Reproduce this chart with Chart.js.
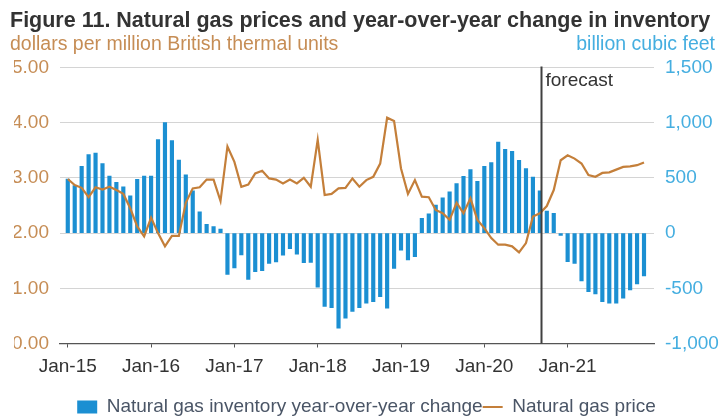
<!DOCTYPE html>
<html>
<head>
<meta charset="utf-8">
<title>Natural gas prices and inventory change</title>
<script src="https://cdn.jsdelivr.net/npm/chart.js@4.4.1/dist/chart.umd.min.js"></script>
<style>
    body { margin: 0; background: #fff; }
    #wrap { width: 719px; height: 420px; }
</style>
</head>
<body>
<div id="wrap"><canvas id="gasChart" width="719" height="420"></canvas></div>
<script>
// Chart data (monthly, Jan-15 to Dec-21)
const tickLabels = ['Jan-15', 'Jan-16', 'Jan-17', 'Jan-18', 'Jan-19', 'Jan-20', 'Jan-21'];

// billion cubic feet
const inventoryChange = [
    490, 430, 605, 711, 725, 629, 517, 460, 418, 337, 488, 517,
    517, 846, 1000, 837, 662, 527, 382, 192, 80, 60, 36, -374,
    -315, -198, -420, -349, -340, -274, -262, -199, -141, -190, -268, -265,
    -490, -665, -675, -861, -770, -710, -675, -635, -620, -575, -680, -319,
    -154, -244, -214, 133, 175, 253, 319, 373, 449, 515, 575, 470,
    605, 638, 824, 759, 741, 659, 584, 508, 382, 199, 178, -20,
    -259, -274, -433, -530, -551, -620, -635, -635, -590, -515, -460, -388
];

// dollars per million Btu
const gasPrice = [
    2.98, 2.87, 2.82, 2.65, 2.83, 2.79, 2.84, 2.78, 2.71, 2.45, 2.12, 1.94,
    2.28, 2.00, 1.76, 1.95, 1.95, 2.55, 2.81, 2.83, 2.97, 2.97, 2.58, 3.57,
    3.29, 2.84, 2.88, 3.08, 3.13, 2.99, 2.97, 2.90, 2.97, 2.90, 3.00, 2.84,
    3.69, 2.69, 2.71, 2.81, 2.82, 2.99, 2.84, 2.96, 3.02, 3.26, 4.09, 4.03,
    3.17, 2.71, 2.96, 2.66, 2.65, 2.42, 2.36, 2.24, 2.55, 2.36, 2.63, 2.24,
    2.09, 1.91, 1.79, 1.79, 1.76, 1.65, 1.82, 2.30, 2.36, 2.49, 2.78, 3.32,
    3.41, 3.35, 3.26, 3.05, 3.02, 3.09, 3.10, 3.15, 3.20, 3.21, 3.23, 3.28
];

// month index where the forecast starts
const forecastStart = 68.1;

const FONT = "'Liberation Sans', Arial, Helvetica, sans-serif";
const PRICE_COLOR = '#c47f3a';
const PRICE_TEXT = '#c68d55';
const INV_COLOR = '#1b8fd2';
const INV_TEXT = '#45aee0';

Chart.defaults.font.family = FONT;

// Plugin for title, unit labels and forecast marker
const annotations = {
    id: 'annotations',
    afterDatasetsDraw(chart) {
        const { ctx, chartArea, scales } = chart;
        const x = Math.round(scales.x.getPixelForValue(forecastStart)) + 0.5;

        ctx.save();
        ctx.strokeStyle = '#404040';
        ctx.lineWidth = 2;
        ctx.beginPath();
        ctx.moveTo(x, chartArea.top - 1);
        ctx.lineTo(x, chartArea.bottom);
        ctx.stroke();

        ctx.fillStyle = '#333';
        ctx.font = `19px ${FONT}`;
        ctx.textAlign = 'left';
        ctx.textBaseline = 'alphabetic';
        ctx.fillText('forecast', x + 4, 86);
        ctx.restore();
    },
    afterDraw(chart) {
        const { ctx } = chart;
        ctx.save();
        ctx.textBaseline = 'alphabetic';

        ctx.fillStyle = '#333';
        ctx.font = `bold 21.5px ${FONT}`;
        ctx.textAlign = 'left';
        ctx.fillText('Figure 11. Natural gas prices and year-over-year change in inventory', 10, 27);

        ctx.font = `19.5px ${FONT}`;
        ctx.fillStyle = PRICE_TEXT;
        ctx.fillText('dollars per million British thermal units', 10, 50);

        ctx.fillStyle = INV_TEXT;
        ctx.textAlign = 'right';
        ctx.fillText('billion cubic feet', 715, 50);
        ctx.restore();
    }
};

// Function to build the chart
function initGasChart() {
    const ctx = document.getElementById('gasChart').getContext('2d');

    new Chart(ctx, {
        type: 'bar',
        data: {
            datasets: [{
                type: 'bar',
                label: 'Natural gas inventory year-over-year change',
                data: inventoryChange.map((v, i) => ({ x: i, y: v })),
                backgroundColor: INV_COLOR,
                borderWidth: 0,
                barThickness: 3.5,
                pointStyle: 'rect',
                yAxisID: 'y1',
                order: 1
            }, {
                type: 'line',
                label: 'Natural gas price',
                data: gasPrice.map((v, i) => ({ x: i, y: v })),
                borderColor: PRICE_COLOR,
                backgroundColor: PRICE_COLOR,
                borderWidth: 2.2,
                pointRadius: 0,
                pointStyle: 'line',
                tension: 0,
                yAxisID: 'y',
                order: 0
            }]
        },
        options: {
            responsive: false,
            animation: false,
            devicePixelRatio: 1,
            layout: {
                padding: { top: 67.5, left: 14, right: 0, bottom: -6.5 }
            },
            scales: {
                x: {
                    type: 'linear',
                    min: -1.12,
                    max: 84.44,
                    offset: false,
                    afterBuildTicks: (scale) => {
                        scale.ticks = tickLabels.map((t, i) => ({ value: i * 12 }));
                    },
                    afterFit: (scale) => { scale.height = 54; },
                    grid: {
                        offset: false,
                        drawOnChartArea: false,
                        drawTicks: true,
                        tickLength: 4,
                        color: '#555'
                    },
                    border: { display: true, color: '#555', width: 1.2 },
                    ticks: {
                        autoSkip: false,
                        maxRotation: 0,
                        padding: 8,
                        color: '#333',
                        font: { size: 19 },
                        callback: (value) => tickLabels[value / 12]
                    }
                },
                y: {
                    position: 'left',
                    min: 0,
                    max: 5,
                    afterFit: (scale) => { scale.width = 46; },
                    grid: {
                        drawTicks: false,
                        color: (c) => c.tick && c.tick.value === 0 ? 'rgba(0,0,0,0)' : '#d4d4d4'
                    },
                    border: { display: false },
                    ticks: {
                        stepSize: 1,
                        padding: 11,
                        color: PRICE_TEXT,
                        font: { size: 19 },
                        callback: (value) => value.toFixed(2)
                    }
                },
                y1: {
                    position: 'right',
                    min: -1000,
                    max: 1500,
                    afterFit: (scale) => { scale.width = 65; },
                    grid: { drawOnChartArea: false, drawTicks: false },
                    border: { display: false },
                    ticks: {
                        stepSize: 500,
                        padding: 11,
                        color: INV_TEXT,
                        font: { size: 19 },
                        callback: (value) => value.toLocaleString('en-US')
                    }
                }
            },
            plugins: {
                title: { display: false },
                tooltip: { enabled: false },
                legend: {
                    position: 'bottom',
                    labels: {
                        usePointStyle: true,
                        pointStyleWidth: 20,
                        boxHeight: 13,
                        padding: 0,
                        color: '#4a5566',
                        font: { size: 19 },
                        sort: (a, b) => a.datasetIndex - b.datasetIndex
                    }
                }
            }
        },
        plugins: [annotations]
    });
}

document.addEventListener('DOMContentLoaded', initGasChart);
</script>
</body>
</html>
